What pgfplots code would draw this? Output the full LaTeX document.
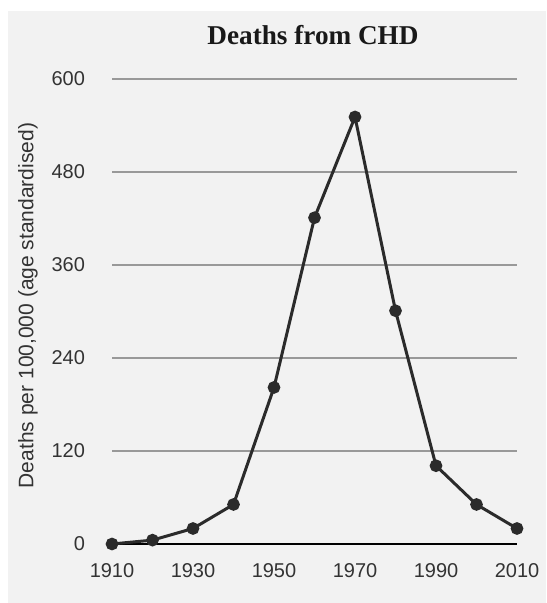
\documentclass[border=0pt]{standalone}
\usepackage{fontspec}
\setmainfont{Liberation Sans}
\newfontfamily\titlefont{Liberation Serif}
\usepackage{pgfplots}
\pgfplotsset{compat=1.18}
\definecolor{bg}{HTML}{F2F2F2}
\definecolor{txt}{HTML}{333333}
\definecolor{ln}{HTML}{2B2B2B}
\begin{document}
\begin{tikzpicture}
\fill[white] (0,0) rectangle (273pt,301.5pt);
\fill[bg] (4pt,0) rectangle (273pt,296pt);
\begin{axis}[
  at={(56pt,29.5pt)}, anchor=south west,
  scale only axis, width=202.5pt, height=232.5pt,
  xmin=1910, xmax=2010, ymin=0, ymax=600,
  clip=false,
  axis line style={draw=none},
  tick style={draw=none},
  xtick={1910,1930,1950,1970,1990,2010},
  ytick={0,120,240,360,480,600},
  ymajorgrids,
  grid style={color=black!40, line width=0.7pt},
  /pgf/number format/assume math mode=true,
  /pgf/number format/1000 sep={},
  ticklabel style={font=\fontsize{10}{12}\selectfont, text=txt},
  yticklabel style={xshift=-10pt},
  xticklabel style={yshift=-6pt},
]
\draw[black, line width=1pt] (rel axis cs:0,0) -- (rel axis cs:1,0);
\addplot[ln, line width=1.5pt, mark=*, mark size=2.4pt, mark options={fill=ln, draw=ln}] coordinates {
(1910,0) (1920,5) (1930,20) (1940,51) (1950,202) (1960,421) (1970,551) (1980,301) (1990,101) (2000,51) (2010,20)
};
\end{axis}
\node[anchor=base, font=\titlefont\bfseries\fontsize{13.6}{16}\selectfont, text=black!90] at (156.5pt,279pt) {Deaths from CHD};
\node[rotate=90, font=\fontsize{10.5}{12}\selectfont, text=txt] at (14pt,148.75pt) {Deaths per 100,000 (age standardised)};
\end{tikzpicture}
\end{document}
